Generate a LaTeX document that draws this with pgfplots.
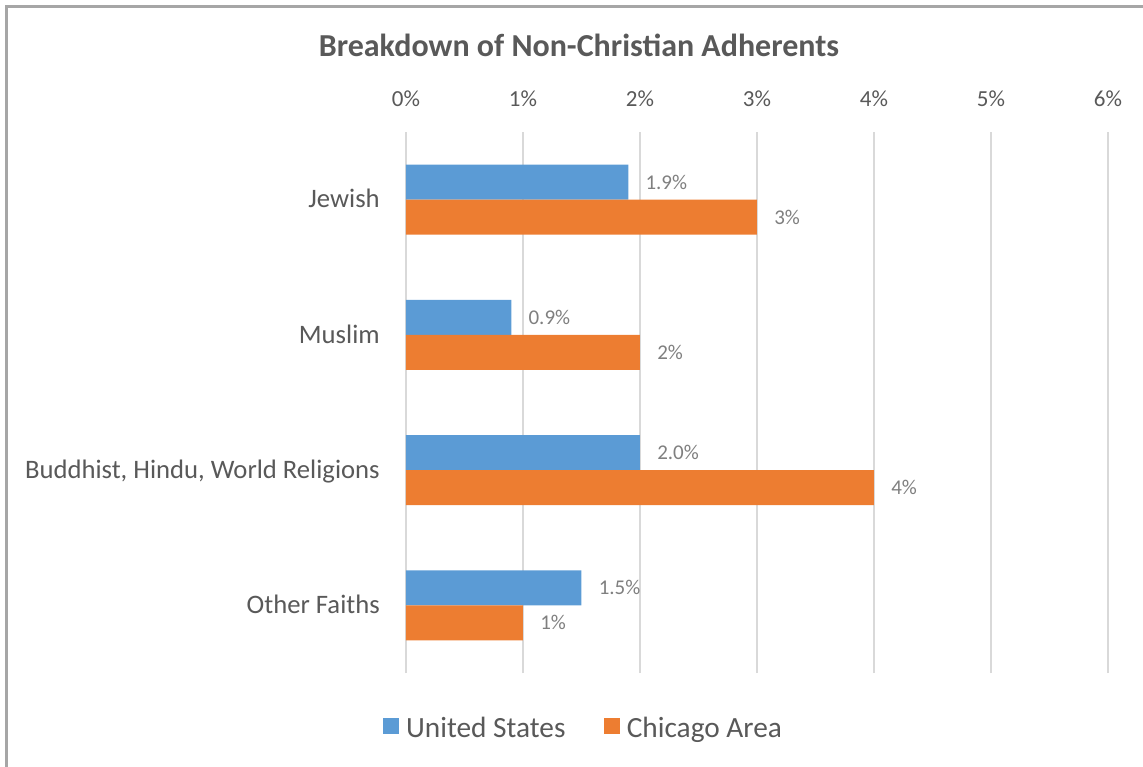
\documentclass[border=0pt]{standalone}
\usepackage{fontspec}
\setmainfont{Carlito}
\usepackage{pgfplots}
\pgfplotsset{compat=1.18}

\definecolor{usblue}{HTML}{5B9BD5}
\definecolor{chiorange}{HTML}{ED7D31}
\definecolor{txtgray}{HTML}{595959}
\definecolor{lblgray}{HTML}{7F7F7F}
\definecolor{gridgray}{HTML}{D9D9D9}
\definecolor{framegray}{HTML}{A6A6A6}

\newlength\px
\setlength\px{0.75pt}

\begin{document}
\begin{tikzpicture}
% canvas: origin at the top left corner of the plot area
\useasboundingbox (-406\px,132\px) rectangle (737\px,-635\px);
\draw[framegray, line width=3.5\px] (-399.5\px,-640\px) -- (-399.5\px,125.7\px) -- (740\px,125.7\px);

\node[anchor=base, text=txtgray, font=\fontsize{24pt}{28pt}\selectfont\bfseries]
  at (173\px,75\px) {Breakdown of Non-Christian Adherents};

\begin{axis}[
    at={(0,0)}, anchor=north west,
    scale only axis,
    width=702\px, height=541\px,
    xbar,
    bar width=35\px,
    xmin=0, xmax=6,
    ymin=-0.5, ymax=3.5,
    xtick={0,1,2,3,4,5,6},
    xticklabel={\pgfmathprintnumber{\tick}\%},
    xticklabel pos=upper,
    xticklabel style={anchor=base, inner sep=0pt, yshift=25\px,
        text=txtgray, font=\fontsize{17.25pt}{20pt}\selectfont},
    ytick={0,1,2,3},
    yticklabels={Other Faiths, {Buddhist, Hindu, World Religions}, Muslim, Jewish},
    yticklabel style={anchor=base east, inner sep=0pt, xshift=-26\px, yshift=-8.3\px,
        text=txtgray, font=\fontsize{20pt}{24pt}\selectfont},
    major tick length=0pt,
    axis line style={draw=none},
    xmajorgrids,
    major grid style={gridgray, line width=2\px},
    /pgf/number format/assume math mode=true,
    nodes near coords style={anchor=west, inner sep=0pt, xshift=17\px,
        text=lblgray, font=\fontsize{15.75pt}{18pt}\selectfont},
    legend columns=2,
    legend style={draw=none, fill=none, inner sep=0pt,
        at={(axis description cs:0.2536,-0.1017)}, anchor=center,
        text=txtgray, font=\fontsize{22pt}{26pt}\selectfont,
        /tikz/every odd column/.append style={column sep=4\px},
        /tikz/every even column/.append style={column sep=36\px}},
    legend image code/.code={\fill[#1] (0,-6\px) rectangle (16\px,10\px);},
]
\addplot[fill=usblue, draw=none, bar shift=17.5\px,
    nodes near coords={\pgfmathprintnumber[fixed,zerofill,precision=1]{\pgfplotspointmeta}\%},
    point meta=x]
  coordinates {(1.9,3) (0.9,2) (2.0,1) (1.5,0)};
\addplot[fill=chiorange, draw=none, bar shift=-17.5\px,
    nodes near coords={\pgfmathprintnumber[fixed,precision=0]{\pgfplotspointmeta}\%},
    point meta=x]
  coordinates {(3,3) (2,2) (4,1) (1,0)};
\legend{United States, Chicago Area}
\end{axis}
\end{tikzpicture}
\end{document}
